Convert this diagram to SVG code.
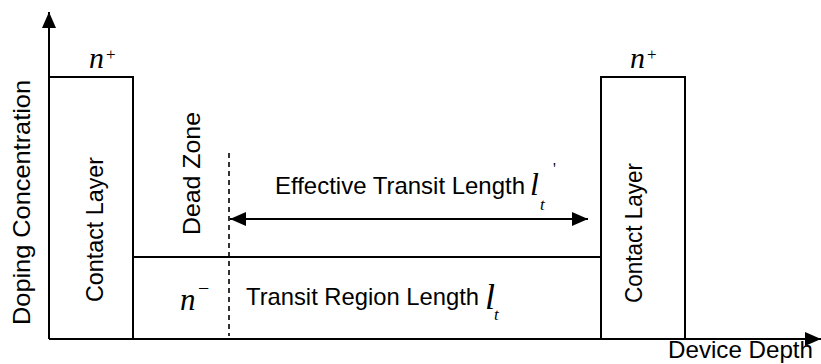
<svg xmlns="http://www.w3.org/2000/svg" width="821" height="364" viewBox="0 0 821 364">
  <defs>
    <marker id="head" viewBox="0 0 16 14" refX="16" refY="7" markerWidth="16" markerHeight="14" markerUnits="userSpaceOnUse" orient="auto-start-reverse">
      <path d="M0,0 L16,7 L0,14 z" fill="#000"/>
    </marker>
  </defs>
  <style>
    .ln { stroke: #000; stroke-width: 2; fill: none; }
    .sans { font-family: "Liberation Sans", Arial, sans-serif; font-size: 24px; fill: #000; }
    .it { font-family: "Liberation Serif", "Times New Roman", serif; font-style: italic; fill: #000; }
    .sup { font-family: "Liberation Serif", "Times New Roman", serif; fill: #000; }
  </style>
  <rect width="821" height="364" fill="#fff"/>

  <g id="connectors">
    <!-- axes -->
    <path class="ln" d="M49,339 V12" marker-end="url(#head)"/>
    <path class="ln" d="M49,339 H821" marker-end="url(#head)"/>
    <!-- effective transit length span -->
    <path class="ln" d="M230,219 H588" marker-start="url(#head)" marker-end="url(#head)"/>
    <!-- dead zone boundary -->
    <path d="M229,153 V336" stroke="#000" stroke-width="1.6" stroke-dasharray="5,4" fill="none"/>
  </g>

  <g id="left-contact">
    <path class="ln" d="M49,77 H133 V339"/>
    <text class="sans" transform="translate(103,229.5) rotate(-90)" text-anchor="middle" textLength="145" lengthAdjust="spacingAndGlyphs">Contact Layer</text>
    <text class="it" x="89" y="68" font-size="30">n</text>
    <text class="sup" x="106" y="60" font-size="17">+</text>
  </g>

  <g id="transit-region">
    <path class="ln" d="M133,257 H601"/>
    <text class="sans" transform="translate(200,173.5) rotate(-90)" text-anchor="middle" textLength="123" lengthAdjust="spacingAndGlyphs">Dead Zone</text>
    <text class="sans" x="246" y="305" textLength="233" lengthAdjust="spacingAndGlyphs">Transit Region Length</text>
    <text class="it" x="485" y="309" font-size="36">l</text>
    <text class="it" x="494" y="320" font-size="17">t</text>
    <text class="it" x="180" y="310" font-size="31">n</text>
    <text class="sup" x="198" y="295" font-size="20">−</text>
  </g>

  <g id="effective-length">
    <text class="sans" x="275" y="194" textLength="250" lengthAdjust="spacingAndGlyphs">Effective Transit Length</text>
    <text class="it" x="530" y="195" font-size="32">l</text>
    <text class="it" x="540" y="210" font-size="17">t</text>
    <text class="sup" x="553" y="174" font-size="16">'</text>
  </g>

  <g id="right-contact">
    <path class="ln" d="M601,339 V77 H685 V339"/>
    <text class="sans" transform="translate(642,233) rotate(-90)" text-anchor="middle" textLength="140" lengthAdjust="spacingAndGlyphs">Contact Layer</text>
    <text class="it" x="630" y="68" font-size="30">n</text>
    <text class="sup" x="647" y="60" font-size="17">+</text>
  </g>

  <g id="axis-labels">
    <text class="sans" transform="translate(30,202.5) rotate(-90)" text-anchor="middle" textLength="245" lengthAdjust="spacingAndGlyphs">Doping Concentration</text>
    <text class="sans" x="668" y="358" font-size="22" textLength="145" lengthAdjust="spacingAndGlyphs">Device Depth</text>
  </g>
</svg>
